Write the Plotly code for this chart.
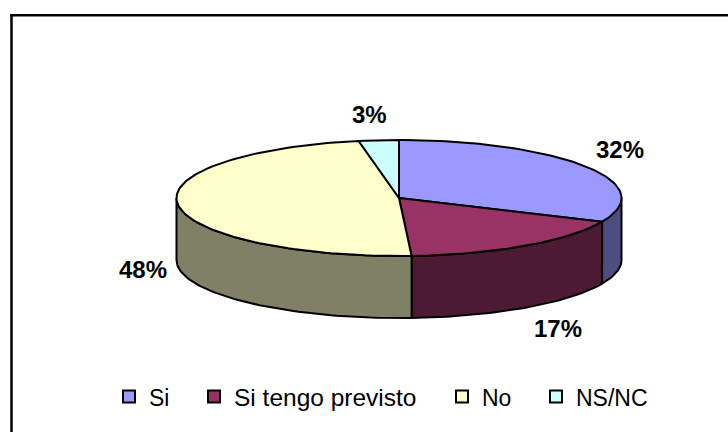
import math
import plotly.graph_objects as go

categories = ["Si", "Si tengo previsto", "No", "NS/NC"]
values = [31.7, 17.4, 48.0, 2.9]

top_colors = ["#9999FF", "#993366", "#FFFFCC", "#CCFFFF"]
side_colors = ["#4D4D80", "#4D1A33", "#808066", "#668080"]
label_xy = [(620, 149), (558, 328), (143, 269), (369, 114)]
legend_x = [109, 194, 442, 536]
legend_size = [23, 24.5, 23, 23]

W, H = 728, 432
CX, CY, RX, RY, DEPTH = 399.0, 198.0, 222.5, 58.0, 62.0


def pt(deg, dy=0.0):
    a = math.radians(deg)
    return CX + RX * math.sin(a), CY - RY * math.cos(a) + dy


def arc(a0, a1, dy=0.0):
    n = max(2, int(abs(a1 - a0) / 1.5) + 1)
    return [pt(a0 + (a1 - a0) * i / (n - 1), dy) for i in range(n)]


total = sum(values)
edges = [0.0]
for v in values:
    edges.append(edges[-1] + 360.0 * v / total)

fig = go.Figure()

# walls: only the front half of the cylinder is visible
for i in range(len(values)):
    a0, a1 = max(edges[i], 90.0), min(edges[i + 1], 270.0)
    if a1 <= a0:
        continue
    p = arc(a0, a1) + arc(a1, a0, DEPTH)
    p.append(p[0])
    fig.add_trace(go.Scatter(
        x=[q[0] for q in p], y=[q[1] for q in p], mode="lines", fill="toself",
        fillcolor=side_colors[i], line=dict(color="#000000", width=2),
        showlegend=False, hoverinfo="skip"))

# top face
for i in range(len(values)):
    p = [(CX, CY)] + arc(edges[i], edges[i + 1]) + [(CX, CY)]
    fig.add_trace(go.Scatter(
        x=[q[0] for q in p], y=[q[1] for q in p], mode="lines", fill="toself",
        fillcolor=top_colors[i], line=dict(color="#000000", width=2),
        showlegend=False, name=categories[i],
        hovertemplate=f"{categories[i]}: {round(values[i])}%<extra></extra>"))

# legend entries, one legend each so the gaps can follow the reference
legends = {}
for i, c in enumerate(categories):
    key = "legend" if i == 0 else f"legend{i + 1}"
    fig.add_trace(go.Scatter(
        x=[None], y=[None], mode="markers", name=c, legend=key, showlegend=True,
        marker=dict(symbol="square", size=12, color=top_colors[i],
                    line=dict(color="#000000", width=2))))
    legends[key] = dict(
        orientation="h", x=legend_x[i] / W, y=0.082, xanchor="left", yanchor="middle",
        bgcolor="rgba(0,0,0,0)", itemwidth=30,
        font=dict(family="Liberation Sans", size=legend_size[i], color="#000000"))

annotations = [
    dict(x=x, y=y, xref="x", yref="y", text=f"<b>{round(v)}%</b>", showarrow=False,
         font=dict(family="Liberation Sans", size=24, color="#000000"))
    for (x, y), v in zip(label_xy, values)
]

border = dict(color="#000000", width=2.5)
fig.update_layout(
    width=W, height=H, autosize=False,
    margin=dict(l=0, r=0, t=0, b=0, pad=0),
    paper_bgcolor="#FFFFFF", plot_bgcolor="#FFFFFF",
    xaxis=dict(range=[0, W], visible=False, fixedrange=True),
    yaxis=dict(range=[H, 0], visible=False, fixedrange=True),
    font=dict(family="Liberation Sans", size=23, color="#000000"),
    annotations=annotations,
    shapes=[
        dict(type="line", xref="x", yref="y", x0=10.3, y0=15.3, x1=W, y1=15.3, line=border, layer="below"),
        dict(type="line", xref="x", yref="y", x0=11.5, y0=14, x1=11.5, y1=H, line=border, layer="below"),
    ],
    **legends,
)
fig.write_html("out.html", config={"displayModeBar": False},
               post_script="document.body.style.margin='0';document.body.style.overflow='hidden';")
